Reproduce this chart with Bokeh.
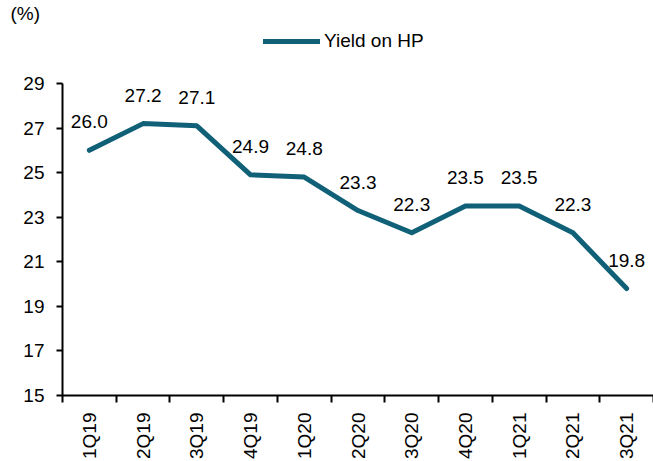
import math
from bokeh.plotting import figure
from bokeh.layouts import column
from bokeh.models import (ColumnDataSource, FixedTicker, LabelSet,
                          Legend, LegendItem)
from bokeh.core.properties import value
from bokeh.embed import file_html
from bokeh.resources import INLINE

quarters = ["1Q19", "2Q19", "3Q19", "4Q19", "1Q20", "2Q20", "3Q20",
            "4Q20", "1Q21", "2Q21", "3Q21"]
yield_hp = [26.0, 27.2, 27.1, 24.9, 24.8, 23.3, 22.3, 23.5, 23.5, 22.3, 19.8]
y_ticks = [15, 17, 19, 21, 23, 25, 27, 29]
series_name = "Yield on HP"
unit_text = "(%)"

FONT = "Liberation Sans"
FS = "19px"
COLOR = "#106178"

xs = [i + 0.5 for i in range(len(quarters))]
src = ColumnDataSource(dict(x=xs, y=yield_hp,
                            lbl=["%.1f" % v for v in yield_hp]))

# ---- header (unit title + legend) ----
TOP_H = 73
top = figure(width=653, height=TOP_H, x_range=(100, 101), y_range=(100, 101),
             output_backend="svg", toolbar_location=None, title=unit_text,
             min_border=0, x_axis_type=None, y_axis_type=None)
top.outline_line_color = None
top.xgrid.visible = False
top.ygrid.visible = False
top.title.text_font = FONT
top.title.text_font_size = FS
top.title.text_font_style = "normal"
top.title.text_color = "black"
top.title.align = "left"
top.title.offset = -52
top.title.standoff = 0
# legend proxy: same series, outside the header's visible range
proxy = top.line("x", "y", source=src, line_color=COLOR, line_width=5,
                 line_cap="round")
legend = Legend(items=[LegendItem(label=series_name, renderers=[proxy])],
                location=(201, TOP_H - 52), orientation="horizontal",
                padding=0, margin=0, glyph_width=57, glyph_height=22,
                label_standoff=4, border_line_alpha=0,
                background_fill_alpha=0, label_text_font=FONT,
                label_text_font_size=FS, label_text_color="black")
top.add_layout(legend, "center")

# ---- main chart ----
p = figure(width=653, height=461 - TOP_H, x_range=(0, len(quarters)),
           y_range=(15, 29), output_backend="svg", toolbar_location=None,
           min_border_left=62, min_border_right=0, min_border_top=10,
           min_border_bottom=66)
p.outline_line_color = None
p.xgrid.visible = False
p.ygrid.visible = False

r = p.line("x", "y", source=src, line_color=COLOR, line_width=5,
           line_cap="round", line_join="round")

labels = LabelSet(x="x", y="y", text="lbl", source=src, y_offset=22,
                  text_align="center", text_baseline="alphabetic",
                  text_font=value(FONT), text_font_size=value(FS),
                  text_color="black")
p.add_layout(labels)

xa = p.xaxis[0]
xa.ticker = FixedTicker(ticks=xs, minor_ticks=list(range(len(quarters) + 1)))
xa.major_label_overrides = {x: q for x, q in zip(xs, quarters)}
xa.major_label_orientation = math.pi / 2
xa.major_tick_out = 0
xa.major_tick_in = 0
xa.minor_tick_out = 7
xa.minor_tick_in = 0
xa.minor_tick_line_width = 2
xa.minor_tick_line_color = "black"
xa.axis_line_width = 2
xa.axis_line_color = "black"
xa.major_label_standoff = 10
xa.major_label_text_font = FONT
xa.major_label_text_font_size = FS
xa.major_label_text_color = "black"

ya = p.yaxis[0]
ya.ticker = FixedTicker(ticks=y_ticks)
ya.major_tick_out = 6
ya.major_tick_in = 0
ya.minor_tick_out = 0
ya.minor_tick_in = 0
ya.major_tick_line_width = 2
ya.major_tick_line_color = "black"
ya.axis_line_width = 2
ya.axis_line_color = "black"
ya.major_label_standoff = 12
ya.major_label_text_font = FONT
ya.major_label_text_font_size = FS
ya.major_label_text_color = "black"

layout = column(top, p, spacing=0)
open("out.html", "w").write(file_html(layout, INLINE))
